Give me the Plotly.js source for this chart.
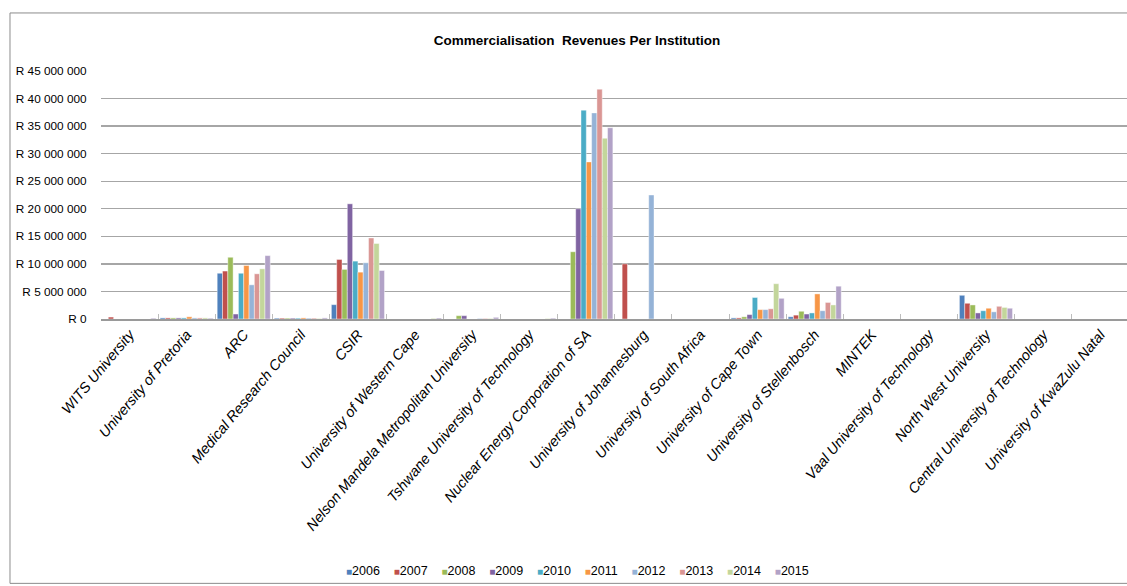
<!DOCTYPE html>
<html>
<head>
<meta charset="utf-8">
<script src="https://cdn.plot.ly/plotly-3.0.1.min.js"></script>
<style>html,body{margin:0;padding:0;background:#fff;}#chart{width:1127px;height:586px;}</style>
</head>
<body>
<div id="chart"></div>
<script>
const categories = ["WITS University","University of Pretoria","ARC","Medical Research Council","CSIR","University of Western Cape","Nelson Mandela Metropolitan University","Tshwane University of Technology","Nuclear Energy Corporation of SA","University of Johannesburg","University of South Africa","University of Cape Town","University of Stellenbosch","MINTEK","Vaal University of Technology","North West University","Central University of Technology","University of KwaZulu Natal"];
const years = ["2006","2007","2008","2009","2010","2011","2012","2013","2014","2015"];
const colors = ["#4F81BD","#C0504D","#9BBB59","#8064A2","#4BACC6","#F79646","#95B3D7","#DA9694","#C3D69B","#B2A2C7"];

const s2006 = [0,200000,8300000,150000,2600000,0,0,0,0,0,0,200000,400000,0,0,4300000,0,0];
const s2007 = [350000,200000,8700000,150000,10800000,0,0,0,0,10000000,0,200000,700000,0,0,2850000,0,0];
const s2008 = [0,200000,11200000,150000,9000000,0,600000,0,12200000,0,0,400000,1400000,0,0,2550000,0,0];
const s2009 = [0,200000,900000,150000,20900000,0,600000,0,20000000,0,0,800000,900000,0,0,1100000,0,0];
const s2010 = [0,200000,8300000,150000,10500000,0,0,0,37900000,0,0,3900000,1100000,0,0,1500000,0,0];
const s2011 = [0,400000,9700000,200000,8500000,0,0,0,28500000,0,0,1700000,4550000,0,0,1950000,0,0];
const s2012 = [0,200000,6200000,150000,10200000,0,100000,0,37400000,22500000,0,1700000,1500000,0,0,1300000,0,0];
const s2013 = [0,200000,8200000,150000,14700000,0,100000,0,41700000,0,0,1850000,3000000,0,0,2300000,0,0];
const s2014 = [0,200000,9100000,100000,13700000,120000,100000,80000,32800000,0,0,6400000,2550000,0,0,2100000,0,0];
const s2015 = [150000,150000,11500000,200000,8800000,180000,300000,150000,34700000,0,0,3750000,5950000,0,0,1950000,0,0];
const series = [s2006,s2007,s2008,s2009,s2010,s2011,s2012,s2013,s2014,s2015];

const yTickVals = [0,5000000,10000000,15000000,20000000,25000000,30000000,35000000,40000000,45000000];
const yTickText = ["R 0","R 5 000 000","R 10 000 000","R 15 000 000","R 20 000 000","R 25 000 000","R 30 000 000","R 35 000 000","R 40 000 000","R 45 000 000"];

const FONT = "Liberation Sans, Arial, sans-serif";

const traces = years.map((y, i) => ({
  type: "bar",
  name: y,
  x: categories,
  y: series[i],
  marker: {color: colors[i], line: {color: "rgba(255,255,255,0.7)", width: 0.6}},
  hoverinfo: "x+y+name"
}));

const legendText = years.map((y, i) =>
  '<span style="color:' + colors[i] + ';font-size:10px">■</span>' + y
).join("&nbsp;&nbsp;&nbsp;&nbsp;");

const layout = {
  width: 1127,
  height: 586,
  margin: {l: 101, r: 0, t: 71, b: 267, pad: 0},
  paper_bgcolor: "#ffffff",
  plot_bgcolor: "#ffffff",
  barmode: "group",
  bargap: 0.07,
  bargroupgap: 0,
  showlegend: false,
  font: {family: FONT, color: "#000000"},
  title: {
    text: "<b>Commercialisation  Revenues Per Institution</b>",
    font: {family: FONT, size: 13.5, color: "#000000"},
    xref: "paper", x: 0.464, xanchor: "center",
    yref: "container", y: 0.932, yanchor: "middle"
  },
  xaxis: {
    type: "category",
    range: [-0.5, 17.47],
    tickangle: -50,
    tickfont: {family: FONT, size: 14.5, style: "italic", color: "#000000"},
    showline: true, linecolor: "#9a9a9a", linewidth: 1.5,
    ticks: "inside", tickson: "boundaries", ticklen: 5, tickcolor: "#bdbdbd", tickwidth: 1,
    showgrid: false, zeroline: false, fixedrange: true
  },
  yaxis: {
    range: [0, 45000000],
    tickvals: yTickVals,
    ticktext: yTickText,
    tickfont: {family: FONT, size: 11.8, color: "#000000"},
    ticks: "outside", ticklen: 11, tickcolor: "rgba(0,0,0,0)",
    showgrid: true, gridcolor: "#a6a6a6", gridwidth: 1.4,
    zeroline: false, showline: false, fixedrange: true
  },
  shapes: [{
    type: "rect", xref: "paper", yref: "paper",
    x0: -0.0887, x1: 1.05, y0: -1.066, y1: 1.234,
    line: {color: "#8c8c8c", width: 1}, fillcolor: "rgba(0,0,0,0)", layer: "below"
  }],
  annotations: [{
    xref: "paper", yref: "paper", x: 0.464, y: -1.016,
    xanchor: "center", yanchor: "middle", showarrow: false,
    text: legendText,
    font: {family: FONT, size: 12.5, color: "#000000"}
  }]
};

Plotly.newPlot("chart", traces, layout, {displayModeBar: false, staticPlot: true});
</script>
</body>
</html>
